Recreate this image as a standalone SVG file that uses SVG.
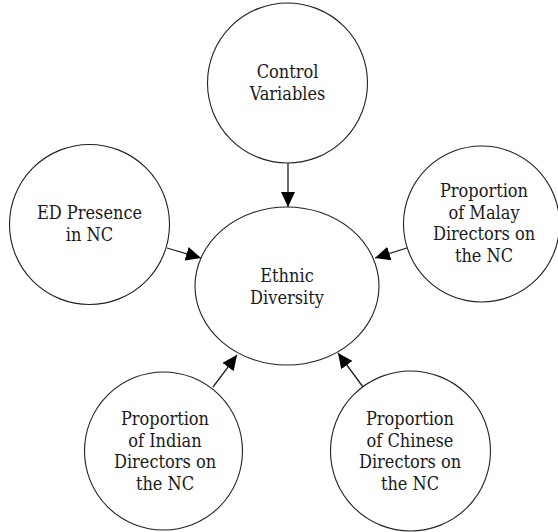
<svg xmlns="http://www.w3.org/2000/svg" width="558" height="532" viewBox="0 0 558 532">
<style>
.n{fill:#fff;stroke:#222;stroke-width:1.1}
.t{font-family:"DejaVu Serif Condensed","DejaVu Serif","Liberation Serif",serif;font-stretch:condensed;font-size:18px;fill:#1a1a1a;text-anchor:middle}
.e{stroke:#222;stroke-width:1.3;fill:none}
</style>
<defs>
<marker id="ah" markerUnits="userSpaceOnUse" markerWidth="15" markerHeight="14" refX="15" refY="7" orient="auto">
<path d="M0,0 L15,7 L0,14 z" fill="#000"/>
</marker>
</defs>
<rect width="558" height="532" fill="#fff"/>
<g id="connectors">
<line class="e" x1="288" y1="162" x2="288" y2="207" marker-end="url(#ah)"/>
<line class="e" x1="167" y1="248" x2="201" y2="258" marker-end="url(#ah)"/>
<line class="e" x1="410" y1="247" x2="375" y2="258" marker-end="url(#ah)"/>
<line class="e" x1="213" y1="387" x2="237" y2="355" marker-end="url(#ah)"/>
<line class="e" x1="363" y1="387" x2="338" y2="353" marker-end="url(#ah)"/>
</g>
<g id="control">
<circle class="n" cx="287.5" cy="83" r="80"/>
<text class="t" x="287.5" y="78">Control</text>
<text class="t" x="287.5" y="100">Variables</text>
</g>
<g id="ethnic">
<ellipse class="n" cx="287" cy="286" rx="92" ry="79"/>
<text class="t" x="287" y="282">Ethnic</text>
<text class="t" x="287" y="304">Diversity</text>
</g>
<g id="ed">
<circle class="n" cx="89.5" cy="224.5" r="80"/>
<text class="t" x="89.5" y="219">ED Presence</text>
<text class="t" x="89.5" y="241">in NC</text>
</g>
<g id="malay">
<circle class="n" cx="481.5" cy="224" r="78"/>
<text class="t" x="484" y="197">Proportion</text>
<text class="t" x="484" y="218.5">of Malay</text>
<text class="t" x="484" y="240">Directors on</text>
<text class="t" x="484" y="261.5">the NC</text>
</g>
<g id="indian">
<circle class="n" cx="163.5" cy="451" r="79"/>
<text class="t" x="165" y="425">Proportion</text>
<text class="t" x="165" y="446.5">of Indian</text>
<text class="t" x="165" y="468">Directors on</text>
<text class="t" x="165" y="489.5">the NC</text>
</g>
<g id="chinese">
<circle class="n" cx="410.5" cy="451" r="80"/>
<text class="t" x="410" y="425">Proportion</text>
<text class="t" x="410" y="446.5">of Chinese</text>
<text class="t" x="410" y="468">Directors on</text>
<text class="t" x="410" y="489.5">the NC</text>
</g>
</svg>
